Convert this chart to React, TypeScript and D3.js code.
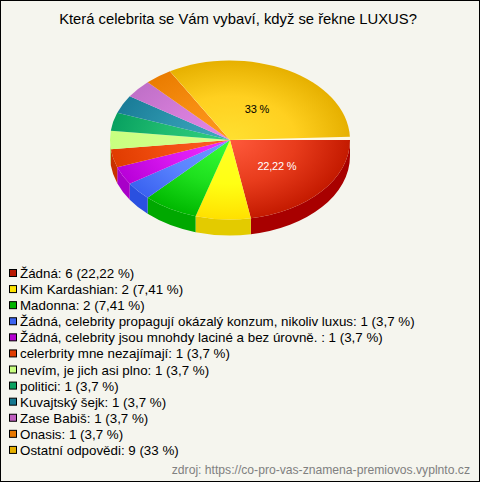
import React, { useEffect, useRef } from 'react';
import * as d3 from 'd3';

const title = 'Která celebrita se Vám vybaví, když se řekne LUXUS?';
const source = 'zdroj: https://co-pro-vas-znamena-premiovos.vyplnto.cz';
const categories = [
  'Žádná',
  'Kim Kardashian',
  'Madonna',
  'Žádná, celebrity propagují okázalý konzum, nikoliv luxus',
  'Žádná, celebrity jsou mnohdy laciné a bez úrovně. ',
  'celerbrity mne nezajímají',
  'nevím, je jich asi plno',
  'politici',
  'Kuvajtský šejk',
  'Zase Babiš',
  'Onasis',
  'Ostatní odpovědi',
];
const counts = [6, 2, 2, 1, 1, 1, 1, 1, 1, 1, 1, 9];
const percents = ['22,22', '7,41', '7,41', '3,7', '3,7', '3,7', '3,7', '3,7', '3,7', '3,7', '3,7', '33'];
const sliceLabels = ['22,22 %', '', '', '', '', '', '', '', '', '', '', '33 %'];
const labelColors = ['#ffffff', '', '', '', '', '', '', '', '', '', '', '#000000'];
const lightColors = ['#ff5a3c', '#ffff28', '#38ff38', '#6f9bff', '#f030ff', '#ff6028', '#d8ff90', '#30d080', '#40a8c0', '#e488e8', '#ff9820', '#ffe030'];
const midColors = ['#e83c1c', '#ffff14', '#1ee01e', '#5a84ff', '#d818f0', '#f24e10', '#d0ff88', '#20bc70', '#2c94ac', '#d47cd8', '#f68c10', '#ffd020'];
const darkColors = ['#c41a00', '#ffe000', '#00b800', '#3a62f0', '#b800d8', '#e03c00', '#c8ff80', '#08a060', '#1a7c98', '#c070c8', '#ea7c00', '#e6b000'];
const wallColors = ['#a80000', '#e3cb00', '#00a800', '#2a50e0', '#a800c8', '#c83000', '#b0e070', '#088050', '#106078', '#a050a8', '#c86000', '#c89000'];
const swatchColors = ['#b81800', '#ffe400', '#00b400', '#3c64f0', '#b400d0', '#e03c00', '#c8ff80', '#08a060', '#167890', '#c060c0', '#e87800', '#e6b000'];

const width = 480;
const height = 482;

const App: React.FC = () => {
  const svgRef = useRef<SVGSVGElement>(null);

  useEffect(() => {
    const svg = d3.select(svgRef.current);
    svg.selectAll('*').remove();

    const cx = 230;
    const cy = 140;
    const rx = 120;
    const ry = 79.5;
    const depth = 16;
    // the last slice is pulled off a bit, that leaves a pale gap above the first one
    const gapAngle = (2.4 * Math.PI) / 180;

    svg.append('rect')
      .attr('x', 0.5).attr('y', 0.5)
      .attr('width', width - 1).attr('height', height - 1)
      .attr('fill', '#f5f5ee')
      .attr('stroke', '#000000');

    svg.append('text')
      .attr('x', 238).attr('y', 24)
      .attr('text-anchor', 'middle')
      .attr('font-size', 14.8)
      .attr('fill', '#000000')
      .text(title);

    const defs = svg.append('defs');
    counts.forEach((_, i) => {
      const grad = defs.append('radialGradient')
        .attr('id', `slice${i}`)
        .attr('gradientUnits', 'userSpaceOnUse')
        .attr('cx', 0).attr('cy', 0).attr('r', rx);
      grad.append('stop').attr('offset', '0%').attr('stop-color', lightColors[i]);
      grad.append('stop').attr('offset', '55%').attr('stop-color', midColors[i]);
      grad.append('stop').attr('offset', '100%').attr('stop-color', darkColors[i]);
    });

    // d3 angles start at 12 o'clock, the chart starts at 3 o'clock
    const slices = d3.pie<number>().sort(null)
      .startAngle(Math.PI / 2)
      .endAngle(Math.PI * 2.5)(counts);
    const arc = d3.arc<d3.PieArcDatum<number>>().innerRadius(0).outerRadius(rx);

    const px = (a: number) => cx + rx * Math.sin(a);
    const py = (a: number) => cy - ry * Math.cos(a);

    // side walls, only the part of the rim which faces the viewer
    const walls = svg.append('g');
    slices.forEach((s, i) => {
      const a0 = Math.max(s.startAngle, Math.PI / 2);
      const a1 = Math.min(s.endAngle, Math.PI * 1.5);
      if (a1 <= a0) return;
      const d = `M${px(a0)},${py(a0)}A${rx},${ry} 0 0 1 ${px(a1)},${py(a1)}`
        + `L${px(a1)},${py(a1) + depth}A${rx},${ry} 0 0 0 ${px(a0)},${py(a0) + depth}Z`;
      walls.append('path').attr('d', d).attr('fill', wallColors[i]);
    });

    const top = svg.append('g')
      .attr('transform', `translate(${cx},${cy}) scale(1,${ry / rx})`);
    slices.forEach((s, i) => {
      const last = i === slices.length - 1;
      if (last) {
        top.append('path').attr('d', arc(s)).attr('fill', '#fdf8e4');
        top.append('path')
          .attr('d', arc({ ...s, endAngle: s.endAngle - gapAngle }))
          .attr('fill', `url(#slice${i})`);
      } else {
        top.append('path').attr('d', arc(s)).attr('fill', `url(#slice${i})`);
      }
    });

    slices.forEach((s, i) => {
      if (!sliceLabels[i]) return;
      const r = rx * (i === 0 ? 0.51 : 0.45);
      const [lx, ly] = d3.arc<d3.PieArcDatum<number>>().innerRadius(r).outerRadius(r).centroid(s);
      svg.append('text')
        .attr('x', cx + lx)
        .attr('y', cy + ly * (ry / rx) + 4)
        .attr('text-anchor', 'middle')
        .attr('font-size', 11)
        .attr('letter-spacing', -0.2)
        .attr('fill', labelColors[i])
        .text(sliceLabels[i]);
    });

    const legendY = d3.scaleBand<number>()
      .domain(d3.range(categories.length))
      .range([265, 458]);
    const legend = svg.append('g');
    categories.forEach((c, i) => {
      const y = legendY(i)!;
      legend.append('rect')
        .attr('x', 9.5).attr('y', y + 4.5)
        .attr('width', 7).attr('height', 7)
        .attr('fill', swatchColors[i])
        .attr('stroke', '#000000');
      legend.append('text')
        .attr('x', 20).attr('y', y + 13)
        .attr('font-size', 13.35)
        .attr('fill', '#000000')
        .text(`${c}: ${counts[i]} (${percents[i]} %)`);
    });

    svg.append('text')
      .attr('x', 470).attr('y', 474)
      .attr('text-anchor', 'end')
      .attr('font-size', 12.15)
      .attr('fill', '#808080')
      .text(source);
  }, []);

  return (
    <svg
      ref={svgRef}
      width={width}
      height={height}
      fontFamily="'Liberation Sans', Arial, sans-serif"
      style={{ position: 'absolute', left: 0, top: 0 }}
    />
  );
};

export default App;
